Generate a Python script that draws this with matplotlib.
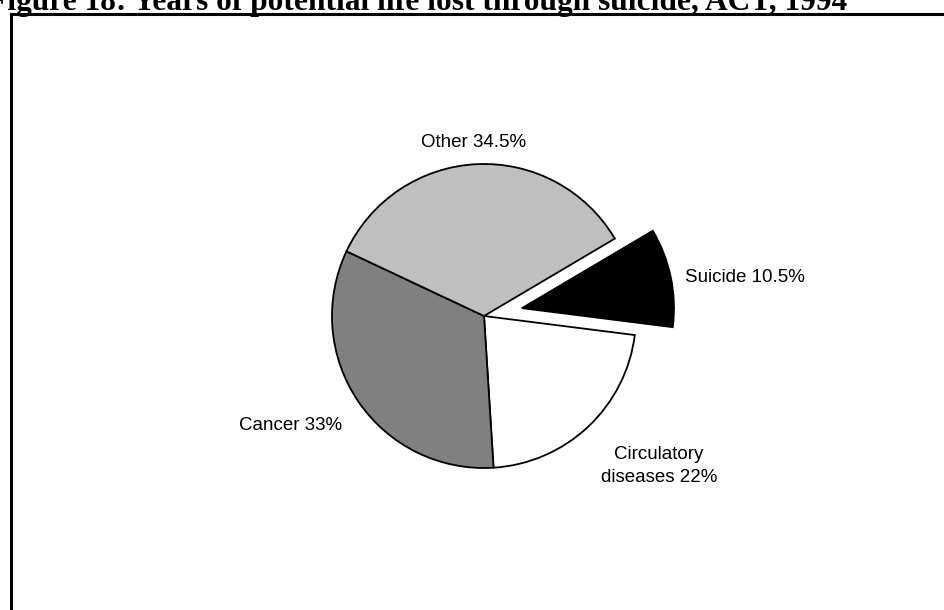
import matplotlib
matplotlib.use("Agg")
import matplotlib.pyplot as plt
from matplotlib.lines import Line2D

# Years of potential life lost, ACT 1994 (per cent of total)
causes = ["Suicide", "Circulatory\ndiseases", "Cancer", "Other"]
shares = [10.5, 22, 33, 34.5]
colours = ["black", "white", "#808080", "#c0c0c0"]
explode = [0.255, 0, 0, 0]

W, H = 944, 610
cx, cy, r = 484, 316, 152   # pie centre and radius in pixels

plt.rcParams['font.family'] = ['Liberation Sans', 'DejaVu Sans']

fig = plt.figure(figsize=(W / 100, H / 100), dpi=100)
ax = fig.add_axes([0, 0, 1, 1])

ax.pie(shares, colors=colours, explode=explode, startangle=30.6,
       counterclock=False, radius=1, center=(0, 0),
       wedgeprops=dict(edgecolor='black', linewidth=1.3))

# pie() resets the limits, so set them afterwards
ax.set_xlim(-cx / r, (W - cx) / r)
ax.set_ylim(-(H - cy) / r, cy / r)
ax.set_aspect('equal')
ax.axis('off')


def px(x, y):
    # pixel position -> data units of the pie axes
    return (x - cx) / r, (cy - y) / r


labels = [f"{c} {s:g}%" for c, s in zip(causes, shares)]
ax.text(*px(685, 277), labels[0], ha='left', va='center', fontsize=13.5)
ax.text(*px(659, 466), labels[1], ha='center', va='center', fontsize=13.5,
        linespacing=1.45, multialignment='center')
ax.text(*px(342, 425), labels[2], ha='right', va='center', fontsize=13.5)
ax.text(*px(474, 142), labels[3], ha='center', va='center', fontsize=13.5)

# frame around the chart (left and top edges visible)
x0, y0 = 10.5 / W, 1 - 13.5 / H
fig.add_artist(Line2D([x0, x0, 1.01], [-0.01, y0, y0], color='black',
                      linewidth=2.2, solid_joinstyle='miter'))

# figure caption, partly above the visible area
fig.text(847 / W, 1 - 10 / H,
         "Figure 18: Years of potential life lost through suicide, ACT, 1994",
         ha='right', va='baseline', fontsize=22.6, fontweight='bold',
         family=['Liberation Serif', 'DejaVu Serif'])

fig.savefig("out.png", dpi=100, facecolor='white')
